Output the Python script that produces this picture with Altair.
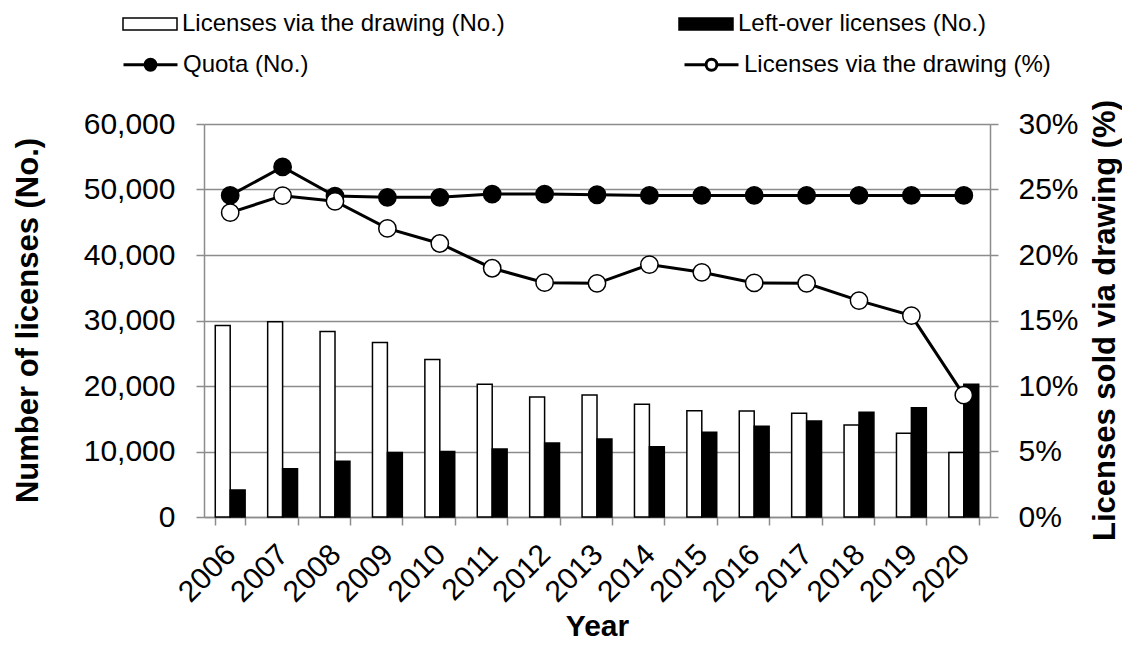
import altair as alt
import pandas as pd

years = ["2006", "2007", "2008", "2009", "2010", "2011", "2012", "2013",
         "2014", "2015", "2016", "2017", "2018", "2019", "2020"]
drawing_no = [29250, 29800, 28330, 26650, 24040, 20270, 18330, 18640,
              17210, 16230, 16190, 15830, 14040, 12770, 9860]
leftover_no = [4130, 7350, 8530, 9860, 10010, 10370, 11290, 11900,
               10720, 12920, 13840, 14650, 15990, 16690, 20270]
quota_no = [49100, 53450, 49000, 48800, 48800, 49300, 49300, 49200,
            49100, 49100, 49100, 49100, 49100, 49100, 49100]
drawing_pct = [0.2323, 0.2453, 0.2410, 0.2203, 0.2088, 0.1899, 0.1789, 0.1784,
               0.1927, 0.1868, 0.1787, 0.1784, 0.1652, 0.1537, 0.0930]

bar_series = ["Licenses via the drawing (No.)", "Left-over licenses (No.)"]
line_series = ["Quota (No.)", "Licenses via the drawing (%)"]
left_ticks = [0, 10000, 20000, 30000, 40000, 50000, 60000]
right_ticks = [0, 0.05, 0.10, 0.15, 0.20, 0.25, 0.30]

df_bars = pd.DataFrame({
    "Year": years * 2,
    "Series": [bar_series[0]] * len(years) + [bar_series[1]] * len(years),
    "Value": drawing_no + leftover_no,
})
df_quota = pd.DataFrame({"Year": years, "Value": quota_no, "Series": line_series[0]})
df_pct = pd.DataFrame({"Year": years, "Value": drawing_pct, "Series": line_series[1]})

FONT = "Liberation Sans"
GRAY = "#8c8c8c"

x_axis = alt.Axis(
    title="Year", labelAngle=315, tickBand="extent", grid=False,
    labelFontSize=30, labelFont=FONT, labelColor="black", labelPadding=14,
    labelOffset=-10, labelAlign="right", labelBaseline="top",
    tickSize=8, tickColor=GRAY, tickWidth=1.5, domainColor=GRAY, domainWidth=1.5,
    titleFontSize=30, titleFont=FONT, titleFontWeight="bold", titleColor="black",
    titleX=393, titleY=109, titleBaseline="middle",
)
x_enc = alt.X("Year:N", sort=years,
              scale=alt.Scale(domain=years, paddingInner=0.43, paddingOuter=0.215),
              axis=x_axis)

left_axis = alt.Axis(
    title="Number of licenses (No.)", values=left_ticks, format=",.0f",
    grid=True, gridColor=GRAY, gridWidth=1.5,
    labelFontSize=30, labelFont=FONT, labelColor="black", labelPadding=21,
    tickSize=8, tickColor=GRAY, tickWidth=1.5, domainColor=GRAY, domainWidth=1.5,
    titleFontSize=31, titleFont=FONT, titleFontWeight="bold", titleColor="black",
    titleX=-176, titleY=196, titleBaseline="middle", titleAngle=270,
)
right_axis = alt.Axis(
    title="Licenses sold via drawing (%)", orient="right", values=right_ticks, format=".0%",
    grid=False,
    labelFontSize=30, labelFont=FONT, labelColor="black", labelPadding=20,
    tickSize=8, tickColor=GRAY, tickWidth=1.5, domainColor=GRAY, domainWidth=1.5,
    titleFontSize=31, titleFont=FONT, titleFontWeight="bold", titleColor="black",
    titleX=115, titleY=196, titleBaseline="middle", titleAngle=270,
)

left_y = alt.Scale(domain=[0, 60000], nice=False)
right_y = alt.Scale(domain=[0, 0.30], nice=False)

rect_path = "M-1,-0.22L1,-0.22L1,0.22L-1,0.22Z"
line_circle_path = ("M-1,0L-0.2,0M0.2,0L1,0"
                    "M0.2,0A0.2,0.2 0 1,1 -0.2,0A0.2,0.2 0 1,1 0.2,0Z")

bar_legend = alt.Legend(
    title=None, orient="none", legendX=-82, legendY=-128, direction="horizontal",
    columns=2, columnPadding=171, symbolType=rect_path, symbolSize=2916,
    symbolStrokeColor="black", symbolStrokeWidth=1.5, labelLimit=500,
    labelFontSize=24, labelFont=FONT, labelColor="black", labelOffset=4, padding=0,
    gridAlign="each",
)
line_legend = alt.Legend(
    title=None, orient="none", legendX=-82, legendY=-88, direction="horizontal",
    columns=2, columnPadding=369, symbolType=line_circle_path, symbolSize=2916,
    symbolStrokeColor="black", symbolStrokeWidth=3, labelLimit=500,
    labelFontSize=24, labelFont=FONT, labelColor="black", labelOffset=4, padding=0,
    gridAlign="each",
)

bars = alt.Chart(df_bars).mark_bar(stroke="black", strokeWidth=1.5).encode(
    x=x_enc,
    xOffset=alt.XOffset("Series:N", sort=bar_series,
                        scale=alt.Scale(domain=bar_series, paddingInner=0, paddingOuter=0)),
    y=alt.Y("Value:Q", scale=left_y, axis=left_axis),
    color=alt.Color("Series:N", scale=alt.Scale(domain=bar_series, range=["white", "black"]),
                    legend=bar_legend),
)

fill_scale = alt.Scale(domain=line_series, range=["black", "white"])

quota_line = alt.Chart(df_quota).mark_line(color="black", strokeWidth=3).encode(
    x=x_enc, y=alt.Y("Value:Q", scale=left_y, axis=left_axis),
)
quota_pts = alt.Chart(df_quota).mark_point(
    filled=True, size=300, stroke="black", strokeWidth=1.5, opacity=1
).encode(
    x=x_enc, y=alt.Y("Value:Q", scale=left_y, axis=left_axis),
    fill=alt.Fill("Series:N", scale=fill_scale, legend=line_legend),
)

pct_line = alt.Chart(df_pct).mark_line(color="black", strokeWidth=3).encode(
    x=x_enc, y=alt.Y("Value:Q", scale=right_y, axis=right_axis),
)
pct_pts = alt.Chart(df_pct).mark_point(
    filled=True, size=300, stroke="black", strokeWidth=1.5, opacity=1
).encode(
    x=x_enc, y=alt.Y("Value:Q", scale=right_y, axis=right_axis),
    fill=alt.Fill("Series:N", scale=fill_scale, legend=line_legend),
)

left = alt.layer(bars, quota_line, quota_pts)
right = alt.layer(pct_line, pct_pts)

chart = alt.layer(left, right).resolve_scale(y="independent").properties(
    width=786, height=393,
    autosize=alt.AutoSizeParams(type="none"),
    padding={"left": 196, "top": 116, "right": 132, "bottom": 129},
).configure_view(stroke=None).configure(background="white")

chart.save("out.html", embed_options={"renderer": "svg", "actions": False})
